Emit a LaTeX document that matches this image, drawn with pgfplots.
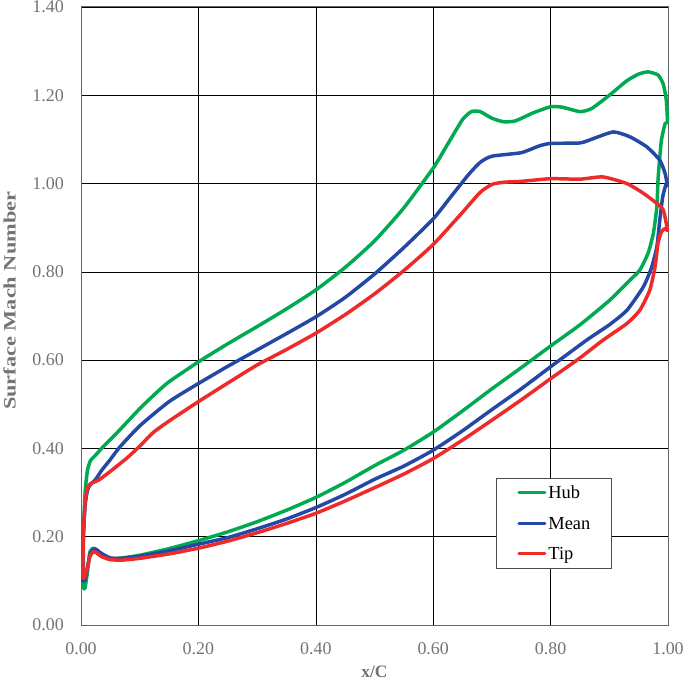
\documentclass[border=0pt]{standalone}
\usepackage{fontspec}
\setmainfont{Liberation Serif}
\usepackage{pgfplots}
\pgfplotsset{compat=1.18}
\definecolor{hubc}{RGB}{0,170,80}
\definecolor{meanc}{RGB}{36,72,165}
\definecolor{tipc}{RGB}{238,42,42}
\definecolor{tickc}{RGB}{115,115,115}
\begin{document}
\begin{tikzpicture}
\begin{axis}[
  scale only axis, width=587bp, height=618bp,
  xmin=0, xmax=1, ymin=0, ymax=1.4,
  xtick={0,0.2,...,1.0}, ytick={0,0.2,...,1.4},
  grid=major, major grid style={black, line width=0.6pt},
  axis line style={draw=black!60, line width=1pt},
  major tick length=0pt,
  tick label style={font=\fontsize{18}{18}\selectfont, text=tickc, inner sep=0pt},
  /pgf/number format/.cd, fixed, fixed zerofill, precision=2, assume math mode=true, /pgfplots/.cd,
  xticklabel style={anchor=center, yshift=-24bp},
  yticklabel style={anchor=east, xshift=-17bp},
  xlabel={\bfseries x/C},
  ylabel={\scalebox{1.28}[1]{\bfseries Surface Mach Number}},
  label style={font=\fontsize{17.5}{17.5}\selectfont, text=tickc, inner sep=0pt},
  xlabel style={at={(axis description cs:0.5,-0.0761)}, anchor=center},
  ylabel style={at={(axis description cs:-0.1218,0.5246)}, anchor=center, rotate=0},
  clip=false,
  legend style={at={(axis cs:0.707,0.333)}, anchor=north west, draw=black!70, line width=0.8pt, fill=white,
    font=\fontsize{18.5}{18.5}\selectfont, row sep=18.5bp, column sep=2bp, inner xsep=21bp, inner ysep=8.5bp,
    nodes={inner sep=0pt, text height=12bp, text depth=0bp}},
  legend cell align=left,
  legend image code/.code={\draw[#1, line width=3pt, line cap=round] (0bp,0bp) -- (26bp,0bp);},
  every axis plot/.append style={line width=3.5pt, line join=round, line cap=round, smooth, tension=0.35},
]
\addplot[hubc] coordinates {
(0.004,0.10) (0.004,0.20) (0.007,0.30) (0.011,0.35) (0.016,0.372) (0.025,0.385) (0.035,0.40) (0.05,0.42) (0.066,0.442) (0.1,0.49) (0.125,0.522) (0.15,0.551) (0.2,0.596) (0.25,0.637) (0.3,0.676) (0.35,0.716) (0.4,0.759) (0.45,0.81) (0.5,0.87) (0.55,0.945) (0.6,1.035) (0.625,1.09) (0.65,1.145) (0.665,1.163) (0.68,1.163) (0.7,1.148) (0.72,1.14) (0.74,1.142) (0.77,1.16) (0.8,1.174) (0.82,1.173) (0.85,1.163) (0.87,1.17) (0.9,1.2) (0.93,1.233) (0.95,1.248) (0.966,1.253) (0.983,1.246) (0.992,1.225) (0.997,1.19) (0.999,1.14)
(0.995,1.136) (0.989,1.10) (0.986,1.06) (0.983,1.008) (0.981,0.947) (0.975,0.887) (0.966,0.842) (0.952,0.804) (0.935,0.781) (0.9,0.735) (0.85,0.68) (0.8,0.632) (0.75,0.583) (0.7,0.535) (0.65,0.485) (0.6,0.437) (0.55,0.396) (0.5,0.361) (0.45,0.323) (0.4,0.289) (0.35,0.26) (0.3,0.234) (0.25,0.211) (0.2,0.191) (0.15,0.173) (0.1,0.158) (0.07,0.152) (0.05,0.15) (0.035,0.16) (0.027,0.17) (0.021,0.174) (0.015,0.165) (0.011,0.12) (0.007,0.085) (0.005,0.082) (0.003,0.1)
};
\addlegendentry{Hub}
\addplot[meanc] coordinates {
(0.003,0.10) (0.004,0.2) (0.007,0.27) (0.011,0.305) (0.016,0.318) (0.025,0.33) (0.035,0.35) (0.05,0.375) (0.066,0.403) (0.1,0.451) (0.15,0.506) (0.2,0.547) (0.25,0.586) (0.3,0.623) (0.35,0.66) (0.4,0.698) (0.45,0.742) (0.5,0.795) (0.55,0.855) (0.6,0.92) (0.63,0.97) (0.66,1.02) (0.68,1.048) (0.7,1.062) (0.75,1.07) (0.78,1.085) (0.8,1.091) (0.85,1.092) (0.873,1.102) (0.907,1.117) (0.935,1.106) (0.964,1.083) (0.986,1.053) (0.995,1.023) (0.999,0.995)
(0.997,1.0) (0.991,0.97) (0.986,0.917) (0.981,0.857) (0.972,0.81) (0.958,0.766) (0.93,0.713) (0.9,0.68) (0.861,0.645) (0.8,0.585) (0.75,0.535) (0.7,0.488) (0.65,0.44) (0.6,0.396) (0.55,0.36) (0.5,0.33) (0.45,0.296) (0.4,0.266) (0.35,0.24) (0.3,0.218) (0.25,0.198) (0.2,0.183) (0.15,0.168) (0.1,0.156) (0.07,0.151) (0.05,0.152) (0.035,0.162) (0.027,0.17) (0.022,0.172) (0.016,0.162) (0.011,0.13) (0.007,0.102) (0.005,0.1) (0.003,0.11)
};
\addlegendentry{Mean}
\addplot[tipc] coordinates {
(0.003,0.11) (0.004,0.2) (0.007,0.28) (0.011,0.31) (0.016,0.32) (0.025,0.325) (0.032,0.33) (0.049,0.347) (0.078,0.378) (0.1,0.405) (0.123,0.436) (0.15,0.462) (0.2,0.506) (0.25,0.548) (0.3,0.589) (0.35,0.624) (0.4,0.661) (0.45,0.703) (0.5,0.75) (0.55,0.803) (0.6,0.862) (0.65,0.935) (0.68,0.98) (0.7,0.998) (0.72,1.003) (0.75,1.005) (0.8,1.011) (0.85,1.01) (0.889,1.015) (0.93,1.0) (0.958,0.978) (0.981,0.955) (0.992,0.94) (0.999,0.895)
(0.995,0.898) (0.989,0.891) (0.983,0.865) (0.978,0.812) (0.969,0.759) (0.952,0.713) (0.93,0.683) (0.889,0.645) (0.85,0.605) (0.8,0.558) (0.75,0.51) (0.7,0.464) (0.65,0.419) (0.6,0.377) (0.55,0.342) (0.5,0.311) (0.45,0.281) (0.4,0.253) (0.35,0.23) (0.3,0.209) (0.25,0.19) (0.2,0.174) (0.15,0.161) (0.1,0.151) (0.07,0.147) (0.05,0.148) (0.035,0.155) (0.027,0.163) (0.021,0.166) (0.015,0.155) (0.011,0.13) (0.007,0.11) (0.004,0.106) (0.003,0.12)
};
\addlegendentry{Tip}
\coordinate (sw) at (rel axis cs:0,0);
\end{axis}
\pgfresetboundingbox
\path[use as bounding box] (sw) ++(-81bp,-59bp) rectangle ++(685bp,684bp);
\end{tikzpicture}
\end{document}
